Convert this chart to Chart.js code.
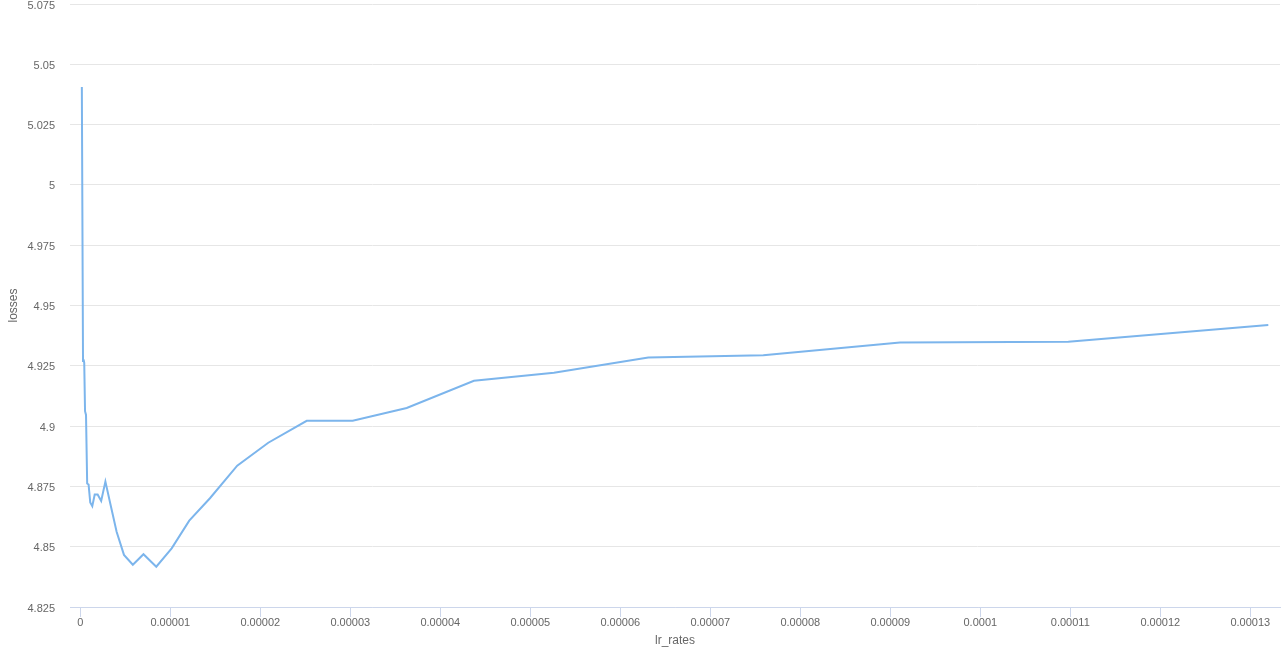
<!DOCTYPE html>
<html>
  <head>
    <meta charset="utf-8">
    <title>losses vs lr_rates</title>
    <style>
      html, body { margin: 0; padding: 0; background: #fff; }
      #wrap { width: 1285px; height: 647px; }
    </style>
  </head>
  <body>
    <div id="wrap"><canvas id="myChart" width="1285" height="647"></canvas></div>
  </body>
  <script src="https://cdn.jsdelivr.net/npm/chart.js@4/dist/chart.umd.min.js"></script>
  <script type="text/javascript">

  // learning rates (x) and the loss (y)
  const lrRates = [
    0.000000176, 0.000000306, 0.000000367, 0.000000442, 0.000000531, 0.000000639,
    0.000000768, 0.000000924, 0.00000111, 0.000001336, 0.000001606, 0.000001932,
    0.000002323, 0.000002793, 0.000003359, 0.000004039, 0.000004857, 0.000005841,
    0.000007024, 0.000008446, 0.000010156, 0.00001211, 0.00001441, 0.00001744,
    0.00002089, 0.00002516, 0.00003027, 0.00003627, 0.00004374, 0.00005263,
    0.00006311, 0.00007589, 0.00009108, 0.00010978, 0.000132
  ];
  const losses = [
    5.0406, 4.9270, 4.9276, 4.9262, 4.9062, 4.9046,
    4.8762, 4.8758, 4.8683, 4.8668, 4.8716, 4.8716,
    4.8690, 4.8770, 4.8675, 4.8562, 4.8466, 4.8425,
    4.8469, 4.8417, 4.8493, 4.8608, 4.8701, 4.8836,
    4.8931, 4.9022, 4.9022, 4.9075, 4.9188, 4.9221,
    4.9284, 4.9294, 4.9347, 4.9350, 4.9419
  ];

  const xTicks = [0, 0.00001, 0.00002, 0.00003, 0.00004, 0.00005, 0.00006,
                  0.00007, 0.00008, 0.00009, 0.0001, 0.00011, 0.00012, 0.00013];
  const xTickLabels = ['0', '0.00001', '0.00002', '0.00003', '0.00004', '0.00005', '0.00006',
                       '0.00007', '0.00008', '0.00009', '0.0001', '0.00011', '0.00012', '0.00013'];
  const yTicks = [4.825, 4.85, 4.875, 4.9, 4.925, 4.95, 4.975, 5, 5.025, 5.05, 5.075];
  const yTickLabels = ['4.825', '4.85', '4.875', '4.9', '4.925', '4.95', '4.975', '5', '5.025', '5.05', '5.075'];

  const points = lrRates.map((x, i) => ({x: x, y: losses[i]}));

  Chart.defaults.font.family = '"Liberation Sans", Arial, sans-serif';
  Chart.defaults.color = '#666666';

  var ctx = document.getElementById('myChart').getContext('2d');
  var chart = new Chart(ctx, {
    type: 'line',
    data: {
      datasets: [{
        label: 'losses',
        data: points,
        borderColor: '#7cb5ec',
        backgroundColor: '#7cb5ec',
        borderWidth: 2,
        pointRadius: 0,
        tension: 0,
        fill: false
      }]
    },
    options: {
      responsive: false,
      animation: false,
      layout: { padding: { top: 4, right: 5, bottom: 0, left: 0 } },
      plugins: {
        legend: { display: false },
        tooltip: { enabled: false }
      },
      scales: {
        x: {
          type: 'linear',
          min: -0.00000114,
          max: 0.0001333,
          afterBuildTicks: (axis) => { axis.ticks = xTicks.map(v => ({value: v})) },
          afterFit: (axis) => {
            axis.height = 40
            axis.paddingLeft = 0
            axis.paddingRight = 0
          },
          ticks: {
            autoSkip: false,
            maxRotation: 0,
            padding: -1,
            font: { size: 11 },
            color: '#666666',
            callback: (v, i) => xTickLabels[i]
          },
          grid: {
            drawOnChartArea: false,
            drawTicks: true,
            tickLength: 10,
            tickColor: '#ccd6eb'
          },
          border: { color: '#ccd6eb', width: 1 },
          title: {
            display: true,
            text: 'lr_rates',
            font: { size: 12 },
            color: '#666666',
            padding: { top: 0, bottom: -1 }
          }
        },
        y: {
          min: 4.825,
          max: 5.075,
          afterBuildTicks: (axis) => { axis.ticks = yTicks.map(v => ({value: v})) },
          afterFit: (axis) => {
            axis.width = 70
            axis.paddingTop = 0
            axis.paddingBottom = 0
          },
          ticks: {
            autoSkip: false,
            padding: 15,
            labelOffset: 1.5,
            font: { size: 11 },
            color: '#666666',
            callback: (v, i) => yTickLabels[i]
          },
          grid: {
            color: '#e6e6e6',
            drawTicks: false
          },
          border: { display: false },
          title: {
            display: true,
            text: 'losses',
            font: { size: 12 },
            color: '#666666',
            padding: { top: 6, bottom: 0 }
          }
        }
      }
    }
  });
  </script>
</html>
